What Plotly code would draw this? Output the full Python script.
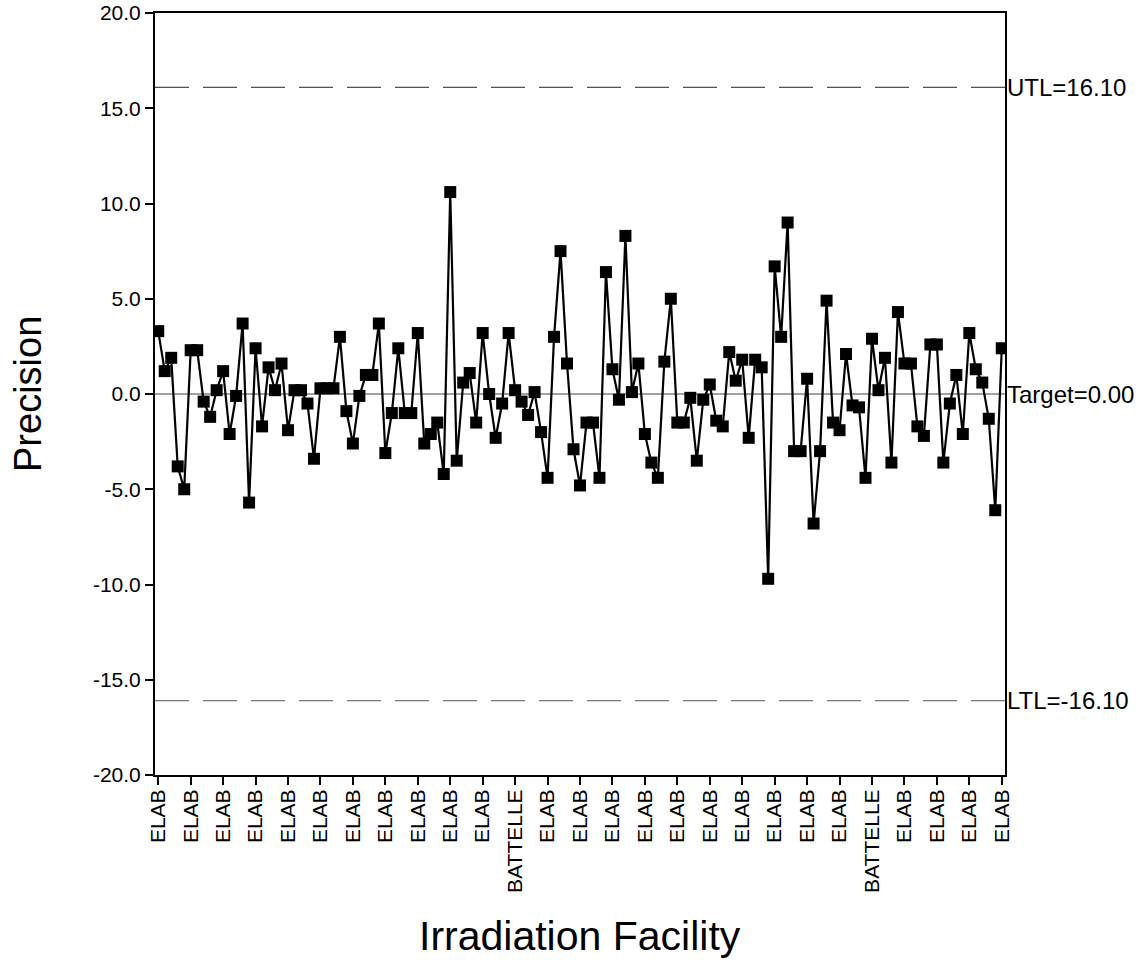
import plotly.graph_objects as go

# Precision of each dosimetry run, in run order
precision = [
    3.3, 1.2, 1.9, -3.8, -5.0, 2.3, 2.3, -0.4, -1.2, 0.2,
    1.2, -2.1, -0.1, 3.7, -5.7, 2.4, -1.7, 1.4, 0.2, 1.6,
    -1.9, 0.2, 0.2, -0.5, -3.4, 0.3, 0.3, 0.3, 3.0, -0.9,
    -2.6, -0.1, 1.0, 1.0, 3.7, -3.1, -1.0, 2.4, -1.0, -1.0,
    3.2, -2.6, -2.1, -1.5, -4.2, 10.6, -3.5, 0.6, 1.1, -1.5,
    3.2, 0.0, -2.3, -0.5, 3.2, 0.2, -0.4, -1.1, 0.1, -2.0,
    -4.4, 3.0, 7.5, 1.6, -2.9, -4.8, -1.5, -1.5, -4.4, 6.4,
    1.3, -0.3, 8.3, 0.1, 1.6, -2.1, -3.6, -4.4, 1.7, 5.0,
    -1.5, -1.5, -0.2, -3.5, -0.3, 0.5, -1.4, -1.7, 2.2, 0.7,
    1.8, -2.3, 1.8, 1.4, -9.7, 6.7, 3.0, 9.0, -3.0, -3.0,
    0.8, -6.8, -3.0, 4.9, -1.5, -1.9, 2.1, -0.6, -0.7, -4.4,
    2.9, 0.2, 1.9, -3.6, 4.3, 1.6, 1.6, -1.7, -2.2, 2.6,
    2.6, -3.6, -0.5, 1.0, -2.1, 3.2, 1.3, 0.6, -1.3, -6.1,
    2.4,
]
run_index = list(range(len(precision)))

# Facility shown under every fifth run
tick_step = 5
tick_labels = [
    "ELAB", "ELAB", "ELAB", "ELAB", "ELAB", "ELAB", "ELAB", "ELAB", "ELAB",
    "ELAB", "ELAB", "BATTELLE", "ELAB", "ELAB", "ELAB", "ELAB", "ELAB",
    "ELAB", "ELAB", "ELAB", "ELAB", "ELAB", "BATTELLE", "ELAB", "ELAB",
    "ELAB", "ELAB",
]
tick_positions = [i * tick_step for i in range(len(tick_labels))]

# Control limits
utl = 16.10
target = 0.00
ltl = -16.10

y_ticks = [-20, -15, -10, -5, 0, 5, 10, 15, 20]
y_tick_text = [f"{v:.1f}" for v in y_ticks]

font_family = "Arial, Liberation Sans, sans-serif"

fig = go.Figure()
fig.add_trace(go.Scatter(
    x=run_index,
    y=precision,
    mode="lines+markers",
    line=dict(color="black", width=2.2),
    marker=dict(symbol="square", size=12, color="black"),
    showlegend=False,
))

x_lo, x_hi = -0.5, len(precision) - 0.5

fig.add_shape(type="line", xref="x", yref="y", x0=x_lo, x1=x_hi, y0=utl, y1=utl,
              line=dict(color="#222222", width=1, dash="34px,14px"))
fig.add_shape(type="line", xref="x", yref="y", x0=x_lo, x1=x_hi, y0=ltl, y1=ltl,
              line=dict(color="#555555", width=1, dash="34px,14px"))
fig.add_shape(type="line", xref="x", yref="y", x0=x_lo, x1=x_hi, y0=target, y1=target,
              line=dict(color="#444444", width=1.2), layer="below")

for label, val in [(f"UTL={utl:.2f}", utl), (f"Target={target:.2f}", target),
                   (f"LTL={ltl:.2f}", ltl)]:
    fig.add_annotation(x=1, xref="paper", y=val, yref="y", text=label,
                       showarrow=False, xanchor="left", xshift=0,
                       font=dict(family=font_family, size=24, color="black"))

# Axis titles
fig.add_annotation(x=0, xref="paper", y=0.5, yref="paper", text="Precision",
                   textangle=-90, showarrow=False, xanchor="center",
                   yanchor="middle", xshift=-127,
                   font=dict(family=font_family, size=38, color="black"))
fig.add_annotation(x=0.5, xref="paper", y=0, yref="paper",
                   text="Irradiation Facility", showarrow=False,
                   xanchor="center", yanchor="middle", yshift=-161,
                   font=dict(family=font_family, size=41, color="black"))

fig.update_layout(
    width=1148,
    height=977,
    margin=dict(l=155, r=143, t=13, b=202, autoexpand=False),
    paper_bgcolor="white",
    plot_bgcolor="white",
    font=dict(family=font_family, color="black"),
    xaxis=dict(
        range=[x_lo, x_hi],
        tickmode="array",
        tickvals=tick_positions,
        ticktext=tick_labels,
        tickangle=-90,
        ticks="outside",
        ticklen=8,
        tickwidth=2,
        tickcolor="black",
        tickfont=dict(size=21),
        ticklabelstandoff=-4,
        showgrid=False,
        zeroline=False,
        showline=True,
        linecolor="black",
        linewidth=2,
        mirror=True,
        automargin=False,
    ),
    yaxis=dict(
        range=[-20, 20],
        tickmode="array",
        tickvals=y_ticks,
        ticktext=y_tick_text,
        ticks="outside",
        ticklen=8,
        tickwidth=2,
        tickcolor="black",
        tickfont=dict(size=21),
        showgrid=False,
        zeroline=False,
        showline=True,
        linecolor="black",
        linewidth=2,
        mirror=True,
        automargin=False,
    ),
)

fig.write_html("out.html")
